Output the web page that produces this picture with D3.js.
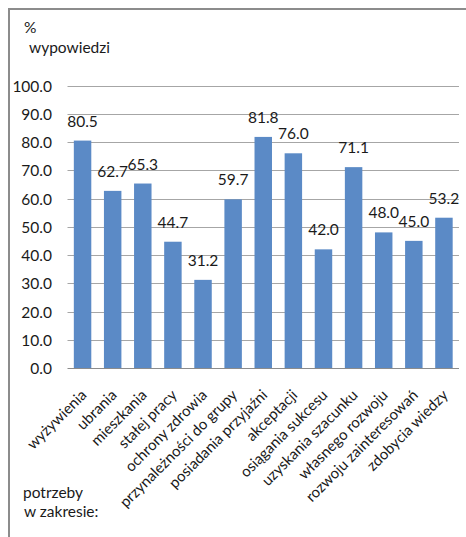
<!DOCTYPE html>
<html><head><meta charset="utf-8">
<script src="https://cdn.jsdelivr.net/npm/d3@7"></script>
<style>
html,body{margin:0;padding:0;background:#fff;}
svg{display:block;}
text{font-family:Lato,"Noto Sans",sans-serif;fill:#1a1a1a;}
</style></head>
<body>
<script>
const categories = ["wyżywienia","ubrania","mieszkania","stałej pracy","ochrony zdrowia","przynależności do grupy","posiadania przyjaźni","akceptacji","osiągania sukcesu","uzyskania szacunku","własnego rozwoju","rozwoju zainteresowań","zdobycia wiedzy"];
const values = [80.5,62.7,65.3,44.7,31.2,59.7,81.8,76.0,42.0,71.1,48.0,45.0,53.2];
const yTicks = [0,10,20,30,40,50,60,70,80,90,100];

const W = 466, H = 537;
const svg = d3.select("body").append("svg").attr("width", W).attr("height", H);

// frame
svg.append("line").attr("x1",9).attr("x2",W).attr("y1",9).attr("y2",9).attr("stroke","#8c8c8c").attr("stroke-width",2);
svg.append("line").attr("x1",9).attr("x2",9).attr("y1",8).attr("y2",H).attr("stroke","#8c8c8c").attr("stroke-width",2);

const x0 = 67.5, x1 = 459, yTop = 85.5, yBot = 368;
const x = d3.scaleBand().domain(categories).range([x0, x1]).paddingInner(0.42).paddingOuter(0.21);
const y = d3.scaleLinear().domain([0,100]).range([yBot, yTop]);

// gridlines
const grid = svg.append("g");
grid.selectAll("line").data(yTicks).join("line")
  .attr("x1", x0).attr("x2", x1)
  .attr("y1", d => Math.round(y(d)) + 0.5).attr("y2", d => Math.round(y(d)) + 0.5)
  .attr("stroke", d => d === 0 ? "#8c8c8c" : "#a6a6a6").attr("stroke-width", 1);

// y axis labels
const yAxis = d3.axisLeft(y).tickValues(yTicks).tickFormat(d3.format(".1f")).tickSize(0).tickPadding(0);
const ya = svg.append("g").attr("transform", "translate(52,0)").call(yAxis);
ya.select(".domain").remove();
ya.selectAll("text").style("font-size","15.5px").style("font-family","Lato,'Noto Sans',sans-serif").attr("fill","#1a1a1a").attr("dy","0.36em");

// bars
svg.append("g").selectAll("rect").data(values).join("rect")
  .attr("x", (d,i) => x(categories[i]))
  .attr("width", x.bandwidth())
  .attr("y", d => y(d))
  .attr("height", d => yBot - y(d))
  .attr("fill", "#5B8AC6");

// value labels
svg.append("g").selectAll("text").data(values).join("text")
  .attr("x", (d,i) => x(categories[i]) + x.bandwidth()/2)
  .attr("y", d => y(d) - 14)
  .attr("text-anchor","middle")
  .style("font-size","15.5px")
  .text(d => d3.format(".1f")(d));

// category labels
svg.append("g").selectAll("text").data(categories).join("text")
  .attr("transform", d => `translate(${x(d) + x.bandwidth()/2 + 5},${yBot + 28}) rotate(-45)`)
  .attr("text-anchor","end")
  .style("font-size","15px")
  .text(d => d);

// axis titles
svg.append("text").attr("x",24).attr("y",33).style("font-size","15.5px").text("%");
svg.append("text").attr("x",29).attr("y",53).style("font-size","15.5px").text("wypowiedzi");
svg.append("text").attr("x",23).attr("y",498).style("font-size","15.5px").text("potrzeby");
svg.append("text").attr("x",24).attr("y",517).style("font-size","15.5px").text("w zakresie:");
</script>
</body></html>
